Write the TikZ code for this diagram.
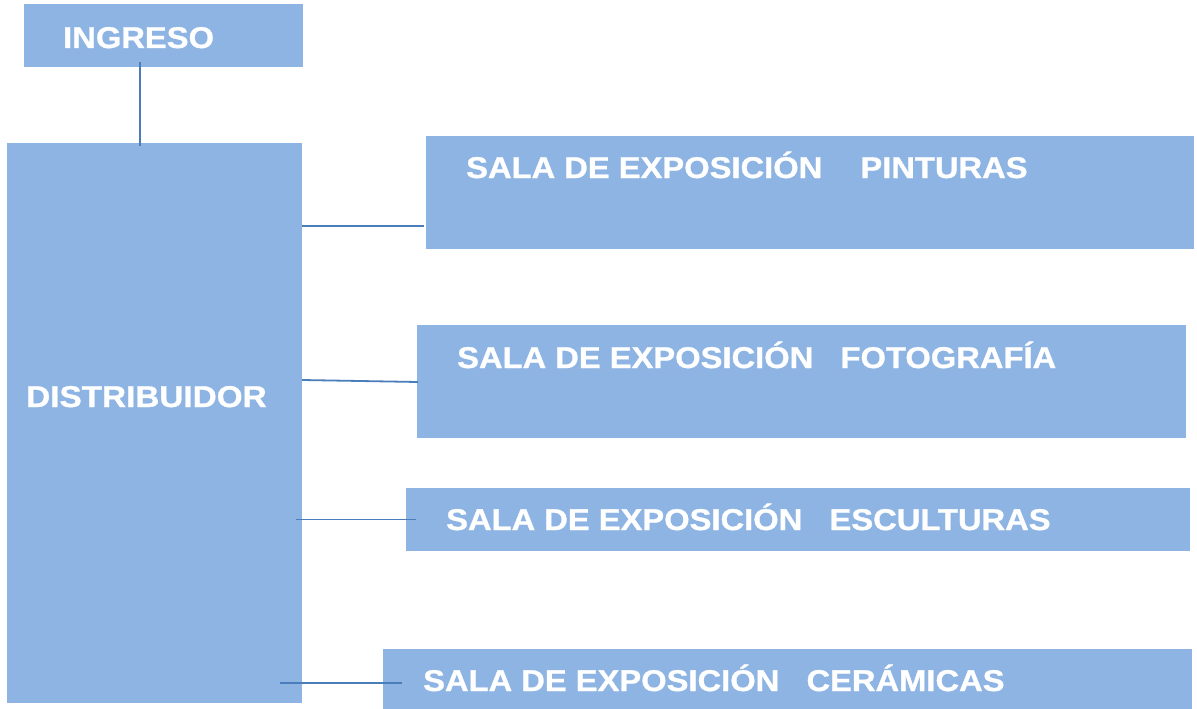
\documentclass[tikz,border=0pt]{standalone}
\usepackage{fontspec}
\setmainfont{Liberation Sans}
\newfontfamily\heavyfont{Liberation Sans Bold}[FakeBold=0.9]
\usetikzlibrary{calc}
\definecolor{boxblue}{HTML}{8EB4E3}
\definecolor{linkblue}{HTML}{4A7EBB}
\newcommand{\widetxt}[1]{\scalebox{1.09}[1]{#1}}
\begin{document}
\begin{tikzpicture}[x=1pt,y=-1pt,
  box/.style={fill=boxblue, draw=none, inner sep=0pt, outer sep=0pt, anchor=north west},
  lbl/.style={anchor=base west, inner sep=0pt, text=white, font=\fontsize{30}{36}\selectfont\heavyfont},
  link/.style={draw=linkblue, line width=1.8pt}]
\fill[white] (0,0) rectangle (1197,709);
\useasboundingbox (0,0) rectangle (1197,709);
% boxes
\node[box, minimum width=279pt, minimum height=63pt] (ing) at (24,4) {};
\node[box, minimum width=295pt, minimum height=560pt] (dist) at (7,143) {};
\node[box, minimum width=768pt, minimum height=113pt] (pint) at (426,136) {};
\node[box, minimum width=769pt, minimum height=113pt] (foto) at (417,325) {};
\node[box, minimum width=784pt, minimum height=63pt] (esc) at (406,488) {};
\node[box, minimum width=809pt, minimum height=60pt] (cer) at (383,649) {};
% labels
\node[lbl] (tIng) at (63,48) {\widetxt{INGRESO}};
\node[lbl] (tDist) at (26,407) {\scalebox{1.11}[1]{DISTRIBUIDOR}};
\node[lbl] (tPint) at (466,178) {\widetxt{SALA DE EXPOSICIÓN\hspace{35pt}PINTURAS}};
\node[lbl] (tFoto) at (457,368) {\widetxt{SALA DE EXPOSICIÓN\hspace{25pt}FOTOGRAFÍA}};
\node[lbl] (tEsc) at (446,530) {\widetxt{SALA DE EXPOSICIÓN\hspace{25pt}ESCULTURAS}};
\node[lbl] (tCer) at (423,691) {\widetxt{SALA DE EXPOSICIÓN\hspace{25pt}CERÁMICAS}};
% connectors
\draw[link] ($(ing.south)+(-23.5,-5)$) -- ($(dist.north)+(-14.5,3)$);
\draw[link] ($(pint.west -| dist.east)+(0,33.5)$) -- ($(pint.west)+(-2,33.5)$);
\draw[link] ($(foto.west -| dist.east)+(0,-1.5)$) -- ($(foto.west)+(1,0.5)$);
\draw[link] ($(esc.west -| dist.east)+(-6,0)$) -- ($(esc.west)+(10,0)$);
\draw[link] ($(cer.west -| dist.east)+(-22,4)$) -- ($(cer.west)+(19,4)$);
\end{tikzpicture}
\end{document}
